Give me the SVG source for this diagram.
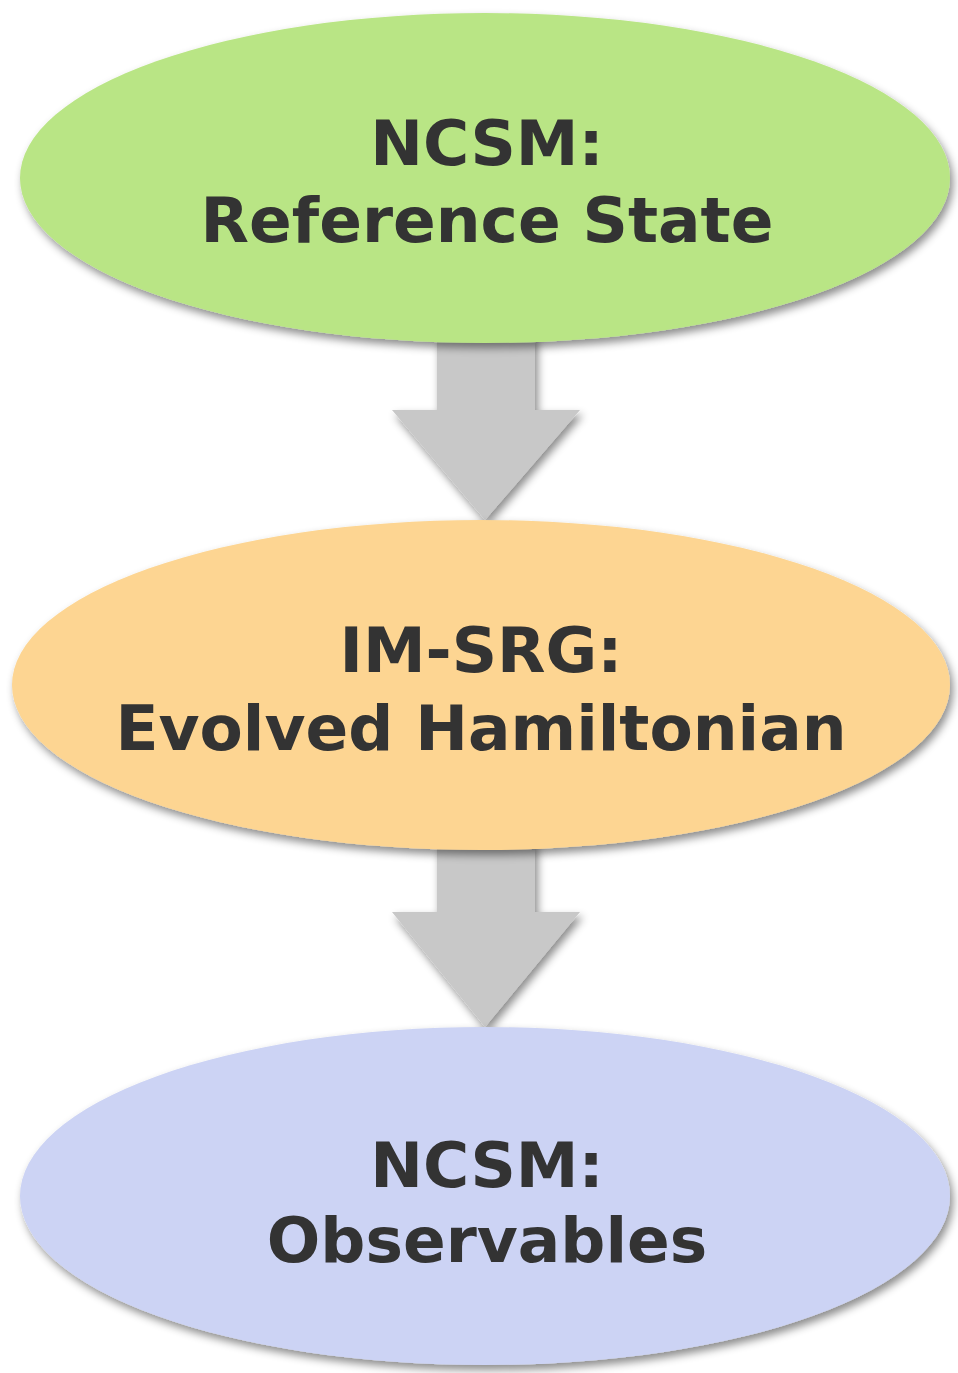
<svg xmlns="http://www.w3.org/2000/svg" width="958" height="1373" viewBox="0 0 958 1373">
<defs>
<filter id="sh" filterUnits="userSpaceOnUse" x="0" y="0" width="958" height="1373">
<feDropShadow dx="3" dy="5" stdDeviation="4" flood-color="#000" flood-opacity="0.45"/>
</filter>
<style>
.t{font-family:"DejaVu Sans",Verdana,sans-serif;font-weight:bold;font-size:63px;fill:#333333;text-anchor:middle}
.arr{fill:#c8c8c8;filter:url(#sh)}
</style>
</defs>
<rect width="958" height="1373" fill="#ffffff"/>
<g id="connectors">
<path class="arr" d="M437,335 L535,335 L535,410 L580,410 L485,520 L392,410 L437,410 Z"/>
<path class="arr" d="M437,842 L535,842 L535,912 L580,912 L485,1027 L392,912 L437,912 Z"/>
</g>
<g id="node1">
<ellipse cx="485" cy="178" rx="465" ry="165" fill="#b9e585" filter="url(#sh)"/>
<text class="t" x="487" y="165">NCSM:</text>
<text class="t" x="487" y="242">Reference State</text>
</g>
<g id="node2">
<ellipse cx="481" cy="685" rx="469" ry="165" fill="#fdd592" filter="url(#sh)"/>
<text class="t" x="481" y="672">IM-SRG:</text>
<text class="t" x="481" y="750">Evolved Hamiltonian</text>
</g>
<g id="node3">
<ellipse cx="485" cy="1196" rx="465" ry="169" fill="#ccd3f4" filter="url(#sh)"/>
<text class="t" x="487" y="1187">NCSM:</text>
<text class="t" x="487" y="1262">Observables</text>
</g>
</svg>
